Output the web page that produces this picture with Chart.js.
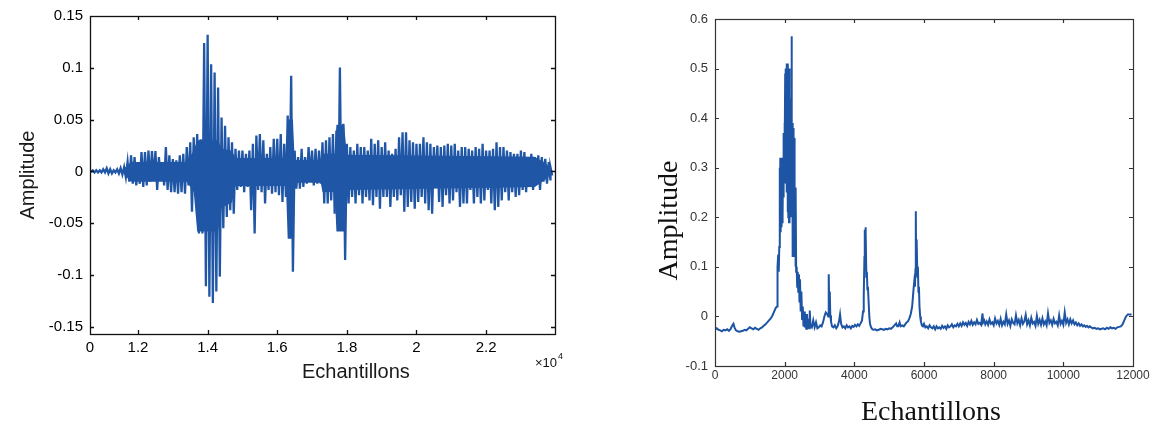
<!DOCTYPE html>
<html>
<head>
<meta charset="utf-8">
<script src="https://cdn.jsdelivr.net/npm/chart.js@4.4.1/dist/chart.umd.min.js"></script>
<style>
html, body { margin: 0; padding: 0; background: #fff; overflow: hidden; width: 1153px; height: 421px; }
#left { position: absolute; left: 0; top: 0; }
#right { position: absolute; left: 590px; top: 0; }
</style>
</head>
<body>
<canvas id="left" width="580" height="400"></canvas>
<canvas id="right" width="563" height="430"></canvas>
<script>
// ---------------- LEFT CHART DATA (waveform envelope: sample, upper, lower) ----------------
const leftX = [
  10620,10700,10800,10900,11000,11100,11200,11300,11400,11500,
  11600,11700,11800,11900,12000,12100,12200,12300,12400,12500,
  12600,12700,12800,12900,13000,13100,13200,13300,13400,13500,
  13600,13700,13800,13900,14000,14100,14200,14300,14400,14500,
  14600,14700,14800,14900,15000,15100,15200,15300,15400,15500,
  15600,15700,15800,15900,16000,16100,16200,16300,16400,16500,
  16600,16700,16800,16900,17000,17100,17200,17300,17400,17500,
  17600,17700,17800,17900,18000,18100,18200,18300,18400,18500,
  18600,18700,18800,18900,19000,19100,19200,19300,19400,19500,
  19600,19700,19800,19900,20000,20100,20200,20300,20400,20500,
  20600,20700,20800,20900,21000,21100,21200,21300,21400,21500,
  21600,21700,21800,21900,22000,22100,22200,22300,22400,22500,
  22600,22700,22800,22900,23000,23100,23200,23300,23400,23500,
  23600,23700,23800,23850
];
const leftHi = [
  0,0.001,0.001,0.001,0.002,0.003,0.002,0.001,0.002,0.003,
  0.004,0.009,0.0154,0.0138,0.009,0.0186,0.0186,0.020,0.0196,0.0196,
  0.0138,0.009,0.0234,0.0154,0.012,0.0106,0.0154,0.017,0.0234,0.028,
  0.033,0.036,0.031,0.124,0.132,0.1035,0.0955,0.081,0.052,0.044,
  0.033,0.028,0.0218,0.020,0.020,0.017,0.020,0.0266,0.0346,0.036,
  0.030,0.017,0.0234,0.0314,0.0314,0.036,0.0266,0.054,0.0923,0.020,
  0.0138,0.0218,0.0138,0.0234,0.020,0.0218,0.020,0.028,0.030,0.033,
  0.036,0.0394,0.1003,0.046,0.0266,0.0234,0.020,0.0266,0.0234,0.0234,
  0.020,0.0314,0.0266,0.030,0.0234,0.028,0.020,0.017,0.0218,0.033,
  0.0378,0.0378,0.030,0.028,0.0266,0.0266,0.033,0.028,0.0266,0.0234,
  0.025,0.0234,0.025,0.0266,0.025,0.0266,0.020,0.0234,0.0234,0.0218,
  0.020,0.0234,0.0218,0.0266,0.020,0.020,0.0218,0.028,0.0234,0.0234,
  0.020,0.0186,0.017,0.017,0.020,0.0186,0.0138,0.017,0.0138,0.0154,
  0.0138,0.012,0.009,0.004
];
const leftLo = [
  0,-0.001,-0.001,-0.001,-0.001,-0.002,-0.002,-0.001,-0.002,-0.003,
  -0.0055,-0.010,-0.0119,-0.0135,-0.012,-0.015,-0.0135,-0.010,-0.007,-0.018,
  -0.0087,-0.0135,-0.018,-0.020,-0.020,-0.0215,-0.020,-0.0215,-0.0135,-0.039,
  -0.020,-0.060,-0.060,-0.111,-0.121,-0.127,-0.116,-0.1016,-0.055,-0.044,
  -0.0375,-0.041,-0.018,-0.015,-0.020,-0.015,-0.0375,-0.060,-0.018,-0.020,
  -0.031,-0.018,-0.0215,-0.020,-0.023,-0.0295,-0.0247,-0.0375,-0.0968,-0.0167,
  -0.0167,-0.015,-0.0119,-0.007,-0.0135,-0.0119,-0.0119,-0.031,-0.031,-0.028,
  -0.041,-0.055,-0.057,-0.0856,-0.031,-0.0247,-0.031,-0.023,-0.031,-0.0247,
  -0.028,-0.0327,-0.0247,-0.036,-0.0247,-0.0247,-0.0343,-0.0247,-0.028,-0.023,
  -0.039,-0.0343,-0.0295,-0.036,-0.0295,-0.0247,-0.031,-0.0375,-0.041,-0.0119,
  -0.0295,-0.0343,-0.023,-0.031,-0.028,-0.020,-0.0343,-0.031,-0.031,-0.018,
  -0.031,-0.0247,-0.031,-0.028,-0.018,-0.031,-0.0375,-0.0343,-0.028,-0.020,
  -0.028,-0.020,-0.0247,-0.023,-0.018,-0.020,-0.0135,-0.018,-0.0119,-0.018,
  -0.010,-0.0119,-0.0087,-0.004
];
// solid (fully inked) body of the waveform
const leftCoreX  = [11600, 11800, 13400, 13600, 13700, 14300, 14400, 14700, 14800, 16250, 16300, 16450, 16500, 17250, 17300, 17650, 17700, 17920, 18000, 23400, 23700, 23850];
const leftCoreHi = [0.003, 0.009, 0.009, 0.02, 0.03, 0.03, 0.022, 0.02, 0.013, 0.013, 0.05, 0.05, 0.011, 0.011, 0.017, 0.017, 0.045, 0.045, 0.016, 0.014, 0.008, 0.003];
const leftCoreLo = [-0.003, -0.01, -0.01, -0.02, -0.058, -0.058, -0.035, -0.03, -0.014, -0.014, -0.065, -0.065, -0.011, -0.011, -0.02, -0.02, -0.058, -0.058, -0.018, -0.015, -0.008, -0.003];

const leftXTicks = [10620, 12000, 14000, 16000, 18000, 20000, 22000];
const leftXTickLabels = ['0', '1.2', '1.4', '1.6', '1.8', '2', '2.2'];
const leftYTicks = [-0.15, -0.1, -0.05, 0, 0.05, 0.1, 0.15];
const leftYTickLabels = ['-0.15', '-0.1', '-0.05', '0', '0.05', '0.1', '0.15'];

// ---------------- RIGHT CHART DATA ----------------
const rightX = [
  0,50,100,150,200,250,300,350,400,450,
  500,530,560,600,650,700,750,800,850,900,
  950,1000,1050,1100,1150,1200,1250,1300,1350,1400,
  1450,1500,1550,1600,1650,1700,1750,1780,1790,1800,
  1815,1830,1845,1855,1865,1875,1885,1895,1905,1915,
  1925,1935,1945,1955,1965,1975,1985,1995,2005,2015,
  2025,2035,2045,2055,2065,2075,2085,2095,2105,2115,
  2125,2135,2145,2155,2165,2175,2185,2195,2202,2210,
  2220,2230,2240,2250,2260,2270,2280,2290,2300,2310,
  2320,2330,2345,2360,2375,2390,2410,2425,2440,2460,
  2480,2500,2520,2540,2560,2580,2600,2620,2640,2660,
  2680,2700,2720,2740,2780,2820,2860,2900,2940,2980,
  3020,3060,3100,3140,3180,3220,3250,3265,3280,3295,
  3310,3330,3360,3400,3440,3480,3520,3560,3590,3620,
  3660,3700,3740,3780,3820,3860,3900,3940,3980,4020,
  4060,4100,4140,4180,4220,4250,4270,4290,4300,4310,
  4320,4330,4345,4360,4375,4390,4410,4430,4450,4480,
  4520,4560,4600,4650,4700,4750,4800,4850,4900,4950,
  5000,5050,5100,5150,5200,5230,5260,5300,5330,5380,
  5420,5460,5500,5540,5580,5620,5660,5700,5720,5740,
  5755,5765,5775,5785,5795,5810,5825,5840,5855,5870,
  5890,5910,5940,5970,6000,6040,6080,6120,6160,6200,
  6240,6280,6320,6360,6400,6440,6480,6520,6560,6600,
  6640,6680,6720,6760,6800,6840,6880,6920,6960,7000,
  7040,7080,7120,7160,7200,7240,7280,7320,7360,7400,
  7440,7480,7520,7560,7600,7640,7680,7700,7730,7760,
  7800,7840,7880,7920,7960,8000,8040,8080,8120,8160,
  8200,8240,8280,8320,8360,8400,8440,8480,8520,8560,
  8600,8640,8680,8720,8760,8800,8840,8880,8920,8960,
  9000,9040,9080,9120,9160,9200,9240,9280,9320,9360,
  9400,9440,9480,9520,9560,9600,9640,9680,9720,9760,
  9800,9840,9880,9920,9960,10000,10040,10080,10120,10160,
  10200,10240,10280,10320,10360,10400,10440,10480,10520,10560,
  10600,10640,10680,10720,10760,10800,10850,10900,10950,11000,
  11050,11100,11150,11200,11250,11300,11350,11400,11450,11500,
  11550,11600,11650,11700,11750,11780,11800,11850,11900,11960
];
const rightY = [
  -0.026,-0.024,-0.027,-0.028,-0.030,-0.027,-0.028,-0.026,-0.029,-0.025,
  -0.018,-0.015,-0.022,-0.028,-0.030,-0.031,-0.030,-0.029,-0.027,-0.028,
  -0.025,-0.022,-0.024,-0.026,-0.023,-0.025,-0.027,-0.024,-0.022,-0.019,
  -0.016,-0.012,-0.008,-0.004,0.002,0.010,0.018,0.020,0.022,0.10,
  0.125,0.09,0.14,0.30,0.15,0.32,0.17,0.31,0.18,0.32,
  0.19,0.30,0.20,0.32,0.24,0.37,0.27,0.39,0.33,0.49,
  0.38,0.50,0.36,0.51,0.25,0.47,0.21,0.51,0.20,0.45,
  0.19,0.50,0.22,0.43,0.20,0.44,0.26,0.40,0.565,0.20,
  0.39,0.12,0.38,0.14,0.38,0.15,0.36,0.12,0.26,0.10,
  0.26,0.09,0.10,0.06,0.09,0.05,0.085,0.03,0.075,0.01,
  0.05,-0.005,0.02,-0.02,0.01,-0.022,-0.01,-0.025,0.005,-0.02,
  -0.005,-0.024,0.012,-0.018,-0.022,-0.008,-0.022,-0.012,-0.024,-0.022,
  -0.018,-0.02,-0.012,0.0,0.008,0.005,0.0,0.085,0.015,0.05,
  0.002,-0.01,-0.02,-0.022,-0.018,-0.024,-0.02,-0.01,0.004,-0.015,
  -0.022,-0.02,-0.024,-0.018,-0.022,-0.02,-0.024,-0.019,-0.021,-0.017,
  -0.02,-0.016,-0.019,-0.014,-0.008,0.01,0.04,0.12,0.175,0.14,
  0.18,0.17,0.08,0.09,0.055,0.06,0.03,0.0,-0.015,-0.022,
  -0.026,-0.027,-0.026,-0.028,-0.027,-0.025,-0.026,-0.027,-0.025,-0.026,
  -0.024,-0.025,-0.022,-0.018,-0.014,-0.02,-0.02,-0.012,-0.02,-0.018,
  -0.02,-0.016,-0.012,-0.01,-0.004,0.005,0.02,0.055,0.07,0.06,
  0.095,0.212,0.09,0.155,0.15,0.08,0.10,0.05,0.06,0.02,
  0.0,-0.01,-0.018,-0.02,-0.015,-0.022,-0.02,-0.024,-0.018,-0.022,
  -0.024,-0.02,-0.026,-0.02,-0.024,-0.022,-0.025,-0.019,-0.023,-0.02,
  -0.025,-0.018,-0.022,-0.02,-0.016,-0.022,-0.018,-0.02,-0.015,-0.02,
  -0.014,-0.019,-0.012,-0.017,-0.013,-0.019,-0.011,-0.016,-0.009,-0.017,
  -0.012,-0.016,-0.007,-0.015,-0.013,-0.017,0.006,-0.012,-0.008,-0.016,
  -0.010,-0.017,-0.006,-0.015,-0.012,-0.018,-0.004,-0.014,-0.009,-0.017,
  -0.005,-0.018,-0.011,-0.016,0.004,-0.015,-0.008,-0.019,-0.006,-0.013,
  -0.016,0.002,-0.014,-0.007,-0.018,-0.004,-0.015,-0.010,0.003,-0.016,
  -0.008,-0.018,-0.003,-0.014,-0.011,-0.019,0.001,-0.015,-0.007,-0.017,
  -0.004,-0.016,-0.010,-0.018,0.006,-0.013,-0.008,-0.017,-0.005,-0.014,
  -0.011,-0.018,0.002,-0.015,-0.009,-0.017,0.008,-0.013,-0.006,-0.016,
  -0.006,-0.014,-0.008,-0.016,-0.012,-0.018,-0.014,-0.019,-0.016,-0.02,
  -0.018,-0.021,-0.019,-0.022,-0.02,-0.022,-0.024,-0.023,-0.025,-0.024,
  -0.026,-0.025,-0.024,-0.026,-0.023,-0.025,-0.022,-0.024,-0.023,-0.025,
  -0.022,-0.021,-0.02,-0.016,-0.008,-0.003,0.0,0.004,0.004,0.004
];
const rightXTicks = [0, 2000, 4000, 6000, 8000, 10000, 12000];
const rightXTickLabels = ['0', '2000', '4000', '6000', '8000', '10000', '12000'];
const rightYTicks = [-0.1, 0, 0.1, 0.2, 0.3, 0.4, 0.5, 0.6];
const rightYTickLabels = ['-0.1', '0', '0.1', '0.2', '0.3', '0.4', '0.5', '0.6'];

// ---------------- helpers ----------------
const SANS = '"Liberation Sans", Arial, Helvetica, sans-serif';
const SERIF = '"Liberation Serif", "Times New Roman", Times, serif';
const LEFT_BLUE = 'rgb(32,86,166)';

// left waveform drawn as dense vertical strokes: upper value then lower value at each sample
const leftPoints = [];
for (let i = 0; i < leftX.length; i++) {
  leftPoints.push({ x: leftX[i], y: leftHi[i] });
  leftPoints.push({ x: leftX[i] + 50, y: leftLo[i] });
}
const coreHiPoints = leftCoreX.map((x, i) => ({ x: x, y: leftCoreHi[i] }));
const coreLoPoints = leftCoreX.map((x, i) => ({ x: x, y: leftCoreLo[i] }));
const rightPoints = rightX.map((x, i) => ({ x: x, y: rightY[i] }));

// MATLAB-like box with inward ticks on all four sides
const framePlugin = {
  id: 'frame',
  afterDatasetsDraw(chart, args, o) {
    const { ctx, chartArea: a } = chart;
    const xs = chart.scales.x, ys = chart.scales.y;
    ctx.save();
    ctx.strokeStyle = o.color;
    ctx.lineWidth = o.lineWidth;
    ctx.beginPath();
    xs.ticks.forEach(t => {
      if (t.value <= xs.min || t.value >= xs.max) return;
      const p = Math.round(xs.getPixelForValue(t.value)) + 0.5;
      ctx.moveTo(p, a.bottom); ctx.lineTo(p, a.bottom - o.len);
      ctx.moveTo(p, a.top); ctx.lineTo(p, a.top + o.len);
    });
    ys.ticks.forEach(t => {
      if (t.value <= ys.min || t.value >= ys.max) return;
      const p = Math.round(ys.getPixelForValue(t.value)) + 0.5;
      ctx.moveTo(a.left, p); ctx.lineTo(a.left + o.len, p);
      ctx.moveTo(a.right, p); ctx.lineTo(a.right - o.len, p);
    });
    ctx.stroke();
    ctx.strokeRect(Math.round(a.left) + 0.5, Math.round(a.top) + 0.5,
                   Math.round(a.right - a.left), Math.round(a.bottom - a.top));
    ctx.restore();
  }
};

// "x10^4" exponent label of the left x axis
const exponentPlugin = {
  id: 'exponent',
  afterDraw(chart) {
    const { ctx, chartArea: a } = chart;
    ctx.save();
    ctx.fillStyle = '#111';
    ctx.textAlign = 'left';
    ctx.textBaseline = 'middle';
    ctx.font = '13px ' + SANS;
    const x0 = a.right - 20, y0 = a.bottom + 29;
    ctx.fillText('\u00d710', x0, y0);
    const w = ctx.measureText('\u00d710').width;
    ctx.font = '9px ' + SANS;
    ctx.fillText('4', x0 + w + 1, y0 - 6);
    ctx.restore();
  }
};

// ---------------- LEFT CHART ----------------
new Chart(document.getElementById('left'), {
  type: 'line',
  data: {
    datasets: [{
      data: leftPoints,
      borderColor: LEFT_BLUE,
      borderWidth: 2.3,
      borderJoinStyle: 'miter',
      pointRadius: 0,
      tension: 0,
      fill: false,
      order: 0
    }, {
      data: coreHiPoints,
      borderColor: LEFT_BLUE,
      backgroundColor: LEFT_BLUE,
      borderWidth: 0,
      pointRadius: 0,
      tension: 0,
      fill: '+1',
      order: 1
    }, {
      data: coreLoPoints,
      borderColor: LEFT_BLUE,
      borderWidth: 0,
      pointRadius: 0,
      tension: 0,
      fill: false,
      order: 2
    }]
  },
  options: {
    responsive: false,
    animation: false,
    events: [],
    layout: { padding: { left: 0, top: 15, right: 25, bottom: 0 } },
    plugins: {
      legend: { display: false },
      tooltip: { enabled: false },
      frame: { color: '#111', lineWidth: 1.3, len: 4 }
    },
    scales: {
      x: {
        type: 'linear',
        min: 10620,
        max: 23980,
        afterBuildTicks: s => { s.ticks = leftXTicks.map(v => ({ value: v })); },
        afterFit: s => { s.height = 66; },
        grid: { display: false, drawTicks: false },
        border: { display: false },
        ticks: {
          autoSkip: false, maxRotation: 0, padding: 5,
          color: '#000', font: { family: SANS, size: 15 },
          callback: (v, i) => leftXTickLabels[i]
        },
        title: {
          display: true,
          text: '            Echantillons',
          color: '#1a1a1a',
          font: { family: SANS, size: 20 },
          padding: { top: 0, bottom: 16 }
        }
      },
      y: {
        type: 'linear',
        min: -0.157,
        max: 0.15,
        afterBuildTicks: s => { s.ticks = leftYTicks.map(v => ({ value: v })); },
        afterFit: s => { s.width = 90; },
        grid: { display: false, drawTicks: false },
        border: { display: false },
        ticks: {
          autoSkip: false, padding: 7,
          color: '#000', font: { family: SANS, size: 15 },
          callback: (v, i) => leftYTickLabels[i]
        },
        title: {
          display: true,
          text: 'Amplitude',
          color: '#1a1a1a',
          font: { family: SANS, size: 20 },
          padding: { top: 16, bottom: 0 }
        }
      }
    }
  },
  plugins: [framePlugin, exponentPlugin]
});

// ---------------- RIGHT CHART ----------------
new Chart(document.getElementById('right'), {
  type: 'line',
  data: {
    datasets: [{
      data: rightPoints,
      borderColor: 'rgb(30,84,164)',
      borderWidth: 2,
      pointRadius: 0,
      tension: 0,
      fill: false
    }]
  },
  options: {
    responsive: false,
    animation: false,
    events: [],
    layout: { padding: { left: 0, top: 19, right: 20, bottom: 0 } },
    plugins: {
      legend: { display: false },
      tooltip: { enabled: false },
      frame: { color: '#333', lineWidth: 1.2, len: 4 }
    },
    scales: {
      x: {
        type: 'linear',
        min: 0,
        max: 12000,
        afterBuildTicks: s => { s.ticks = rightXTicks.map(v => ({ value: v })); },
        afterFit: s => { s.height = 64; },
        grid: { display: false, drawTicks: false },
        border: { display: false },
        ticks: {
          autoSkip: false, maxRotation: 0, padding: 2,
          color: '#333', font: { family: SANS, size: 12 },
          callback: (v, i) => rightXTickLabels[i]
        },
        title: {
          display: true,
          text: '  Echantillons',
          color: '#111',
          font: { family: SERIF, size: 28 },
          padding: { top: 0, bottom: 1 }
        }
      },
      y: {
        type: 'linear',
        min: -0.1,
        max: 0.6,
        afterBuildTicks: s => { s.ticks = rightYTicks.map(v => ({ value: v })); },
        afterFit: s => { s.width = 125; },
        grid: { display: false, drawTicks: false },
        border: { display: false },
        ticks: {
          autoSkip: false, padding: 7,
          color: '#333', font: { family: SANS, size: 13 },
          callback: (v, i) => rightYTickLabels[i]
        },
        title: {
          display: true,
          text: 'Amplitude        ',
          color: '#111',
          font: { family: SERIF, size: 28 },
          padding: { top: 63, bottom: 0 }
        }
      }
    }
  },
  plugins: [framePlugin]
});
</script>
</body>
</html>
